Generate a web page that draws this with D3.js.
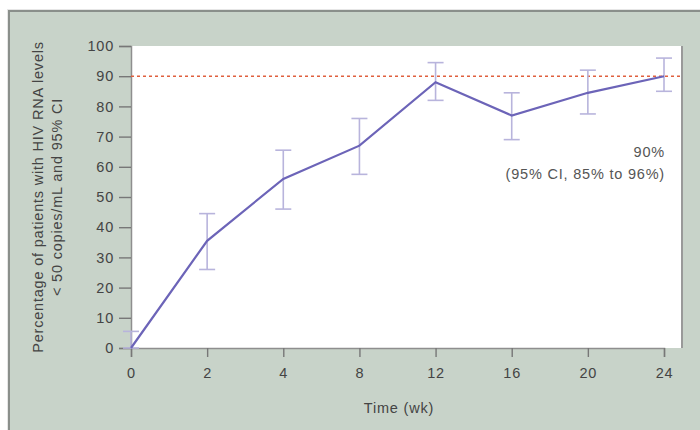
<!DOCTYPE html>
<html><head><meta charset="utf-8">
<script src="https://cdn.jsdelivr.net/npm/d3@7"></script>
<style>body{margin:0;background:#fff}svg{display:block}text{font-family:"Liberation Sans",Arial,sans-serif;letter-spacing:0.8px}</style>
</head><body><svg id="c" width="700" height="430"></svg>
<script>
const weeks = ["0","2","4","8","12","16","20","24"];
const values = [0, 35.5, 56, 67, 88, 77, 84.5, 90];
const lower = [0, 26, 46, 57.5, 82, 69, 77.5, 85];
const upper = [5.5, 44.5, 65.5, 76, 94.5, 84.5, 92, 96];
const yTicks = [0,10,20,30,40,50,60,70,80,90,100];
const refValue = 90;
const annotation = ["90%", "(95% CI, 85% to 96%)"];
const yTitle = ["Percentage of patients with HIV RNA levels", "< 50 copies/mL and 95% CI"];
const xTitle = "Time (wk)";

const FS = 14.5;
const svg = d3.select("#c");
// panel
svg.append("rect").attr("x",7).attr("y",9).attr("width",700).attr("height",430).attr("fill","#e6e6e6");
svg.append("rect").attr("x",9).attr("y",11).attr("width",700).attr("height",430).attr("fill","#c8d3c9").attr("stroke","#8a8f8b").attr("stroke-width",2);

const L=131, R=682, T=46, B=348;
svg.append("rect").attr("x",L).attr("y",T).attr("width",R-L).attr("height",B-T).attr("fill","#fff");
svg.append("line").attr("x1",R).attr("x2",R).attr("y1",T).attr("y2",B).attr("stroke","#999").attr("stroke-width",2);

const x = d3.scalePoint().domain(weeks).range([131,664]);
const y = d3.scaleLinear().domain([0,100]).range([B,T]);

// axes
const yAxis = svg.append("g").attr("transform",`translate(${L},0)`).call(d3.axisLeft(y).tickValues(yTicks).tickSize(12).tickPadding(5));
const xAxis = svg.append("g").attr("transform",`translate(0,${B})`).call(d3.axisBottom(x).tickSize(9).tickPadding(11));
[yAxis,xAxis].forEach(g=>{
  g.attr("font-size",FS).attr("font-family",null);
  g.select(".domain").attr("stroke","#8e8e8e").attr("stroke-width",1.5);
  g.selectAll(".tick line").attr("stroke","#777").attr("stroke-width",1.4);
  g.selectAll(".tick text").attr("fill","#444");
});

// reference line
svg.append("line").attr("x1",L).attr("x2",R).attr("y1",y(refValue)).attr("y2",y(refValue))
  .attr("stroke","#e0603e").attr("stroke-width",1.5).attr("stroke-dasharray","3,3");

// error bars
const eb = svg.append("g").attr("stroke","#b8b4dc").attr("stroke-width",1.6).attr("fill","none");
weeks.forEach((w,i)=>{
  const cx = x(w);
  eb.append("line").attr("x1",cx).attr("x2",cx).attr("y1",y(lower[i])).attr("y2",y(upper[i]));
  eb.append("line").attr("x1",cx-8).attr("x2",cx+8).attr("y1",y(upper[i])).attr("y2",y(upper[i]));
  eb.append("line").attr("x1",cx-8).attr("x2",cx+8).attr("y1",y(lower[i])).attr("y2",y(lower[i]));
});

// line
svg.append("path").datum(values).attr("fill","none").attr("stroke","#6c64b8").attr("stroke-width",2.2)
  .attr("d", d3.line().x((d,i)=>x(weeks[i])).y(d=>y(d)));

// annotation
svg.append("text").attr("x",665).attr("y",157).attr("text-anchor","end").attr("font-size",FS).attr("fill","#555").text(annotation[0]);
svg.append("text").attr("x",665).attr("y",179).attr("text-anchor","end").attr("font-size",FS).attr("fill","#555").text(annotation[1]);

// titles
const cy = (T+B)/2;
svg.append("text").attr("transform",`translate(43,${cy}) rotate(-90)`).attr("text-anchor","middle").attr("font-size",FS).attr("fill","#444").text(yTitle[0]);
svg.append("text").attr("transform",`translate(62,${cy}) rotate(-90)`).attr("text-anchor","middle").attr("font-size",FS).attr("fill","#444").text(yTitle[1]);
svg.append("text").attr("x",399).attr("y",413).attr("text-anchor","middle").attr("font-size",FS).attr("fill","#444").text(xTitle);
</script></body></html>
